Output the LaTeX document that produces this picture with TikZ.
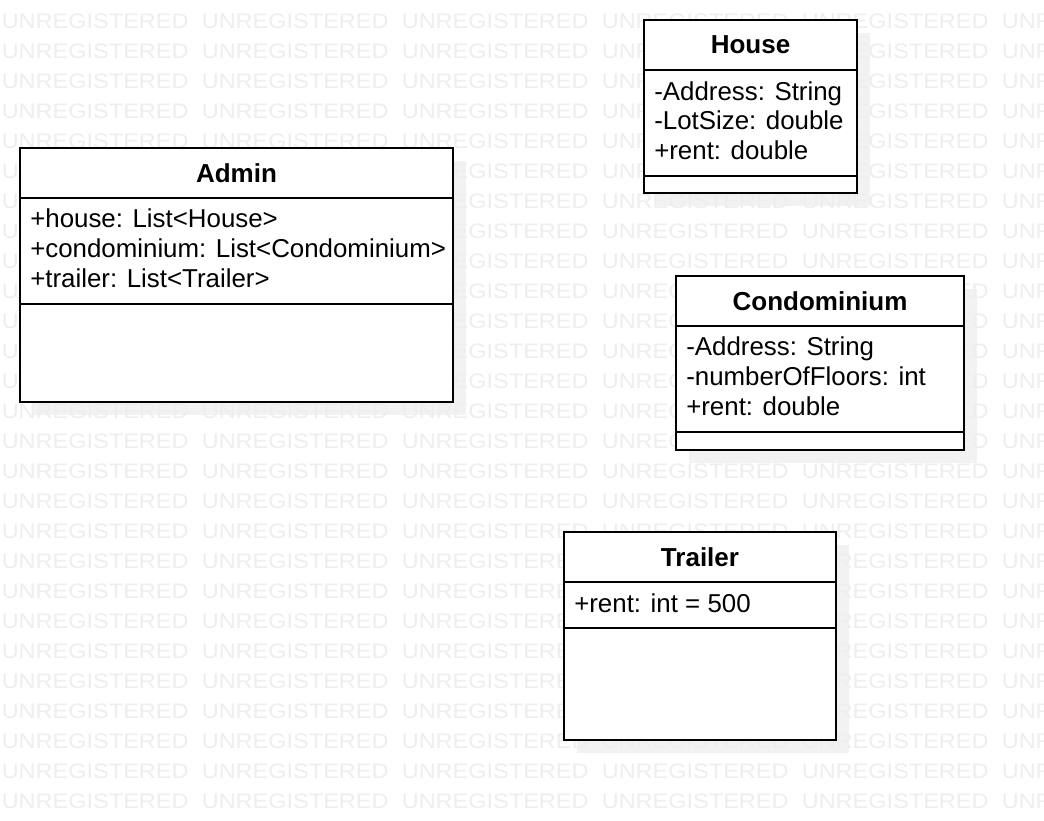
\documentclass[tikz,border=0pt]{standalone}
\usepackage{fontspec}
\setmainfont{Liberation Sans}
\newfontfamily\wmfont[FakeStretch=1.12]{Liberation Sans}
\definecolor{wmgray}{RGB}{238,238,238}
\definecolor{shadowgray}{RGB}{242,242,242}
\tikzset{
  wmark/.style={font=\wmfont\fontsize{15.75pt}{18pt}\selectfont, text=wmgray, inner sep=0pt, anchor=base west},
  classline/.style={line width=1.5pt},
  classtitle/.style={font=\fontsize{19.5pt}{22.5pt}\selectfont\bfseries, inner sep=0pt, anchor=base},
  classattr/.style={font=\fontsize{19.4pt}{22.5pt}\selectfont, inner sep=0pt, anchor=base west},
}
\begin{document}
\begin{tikzpicture}[x=0.75pt, y=-0.75pt]
      \useasboundingbox (0,0) rectangle (1044,820);
      \fill[white] (0,0) rectangle (1044,820);
      %
      % shadows
      \fill[shadowgray] (33,161) rectangle (466,415);    % Admin
      \fill[shadowgray] (657,33) rectangle (870,206);    % House
      \fill[shadowgray] (689,289) rectangle (977,463);   % Condominium
      \fill[shadowgray] (577,545) rectangle (849,753);   % Trailer
      %
      % watermark
      \begin{scope}
        \clip (0,0) rectangle (1044,820);
        \foreach \r in {0,...,26}
          \foreach \c in {0,...,5}
            \node[wmark] (wm-\r-\c) at (\c*200+1.5, 28.5+\r*30) {UNREGISTERED};
      \end{scope}
      %
      % Admin
      \draw[classline, fill=white] (20,148) rectangle (453,402);
      \draw[classline] (20,198) -- (453,198);
      \draw[classline] (20,304) -- (453,304);
      \node[classtitle] (admin) at (236.5,182) {Admin};
      \node[classattr] (admin-house) at (30,227) {+house: List<House>};
      \node[classattr] (admin-condo) at (30,257) {+condominium: List<Condominium>};
      \node[classattr] (admin-trailer) at (30,287) {+trailer: List<Trailer>};
      %
      % House
      \draw[classline, fill=white] (644,20) rectangle (857,193);
      \draw[classline] (644,70) -- (857,70);
      \draw[classline] (644,176) -- (857,176);
      \node[classtitle] (house) at (750.5,54) {House};
      \node[classattr] (house-address) at (654,101) {-Address: String};
      \node[classattr] (house-lotsize) at (654,130) {-LotSize: double};
      \node[classattr] (house-rent) at (654,159) {+rent: double};
      %
      % Condominium
      \draw[classline, fill=white] (676,276) rectangle (964,450);
      \draw[classline] (676,326) -- (964,326);
      \draw[classline] (676,432) -- (964,432);
      \node[classtitle] (condo) at (820,310) {Condominium};
      \node[classattr] (condo-address) at (686,355) {-Address: String};
      \node[classattr] (condo-floors) at (686,385) {-numberOfFloors: int};
      \node[classattr] (condo-rent) at (686,415) {+rent: double};
      %
      % Trailer
      \draw[classline, fill=white] (564,532) rectangle (836,740);
      \draw[classline] (564,582) -- (836,582);
      \draw[classline] (564,628) -- (836,628);
      \node[classtitle] (trailer) at (700,566) {Trailer};
      \node[classattr] (trailer-rent) at (574,612) {+rent: int = 500};
      %
    \end{tikzpicture}
\end{document}
